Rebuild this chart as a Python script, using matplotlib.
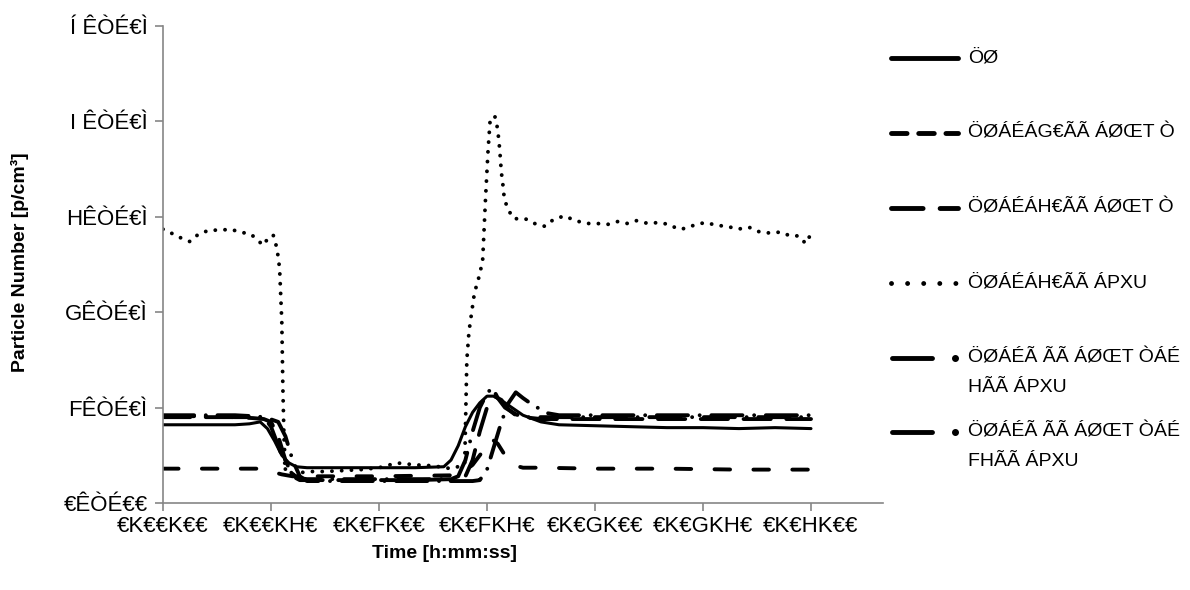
import matplotlib
matplotlib.use('Agg')
import matplotlib.pyplot as plt
from matplotlib.lines import Line2D
import numpy as np

plt.rcParams['font.family'] = ['Liberation Sans', 'DejaVu Sans']

# time in seconds, particle number in units of 1e5 p/cm3
t_s1 = [0, 5, 10, 15, 20, 24, 27, 29, 31, 33, 35, 37, 40, 50, 60, 70, 78, 80, 82, 84, 86, 88, 90, 92, 95,
        100, 105, 110, 120, 130, 140, 150, 160, 170, 180]
v_s1 = [0.82, 0.82, 0.82, 0.82, 0.82, 0.83, 0.85, 0.78, 0.65, 0.50, 0.42, 0.38, 0.37, 0.37, 0.37, 0.37, 0.38,
        0.45, 0.60, 0.80, 0.95, 1.05, 1.12, 1.12, 1.05, 0.92, 0.85, 0.82, 0.81, 0.80, 0.79, 0.79, 0.78, 0.79, 0.78]

t_s2 = [0, 10, 20, 27, 30, 33, 36, 40, 60, 80, 83, 86, 89, 91, 93, 95, 97, 100, 105, 120, 140, 160, 180]
v_s2 = [0.36, 0.36, 0.36, 0.36, 0.33, 0.30, 0.28, 0.28, 0.28, 0.29, 0.31, 0.40, 0.55, 0.68, 0.62, 0.50, 0.40,
        0.37, 0.37, 0.36, 0.36, 0.35, 0.35]

t_s3 = [0, 10, 20, 25, 28, 30, 32, 34, 36, 38, 40, 50, 60, 70, 80, 84, 86, 88, 90, 92, 94, 96, 98, 100, 105,
        110, 120, 140, 160, 180]
v_s3 = [0.90, 0.90, 0.90, 0.89, 0.88, 0.85, 0.70, 0.45, 0.28, 0.24, 0.24, 0.24, 0.24, 0.24, 0.25, 0.28, 0.45,
        0.75, 1.00, 1.12, 1.08, 0.98, 0.92, 0.90, 0.88, 0.88, 0.88, 0.88, 0.88, 0.88]

t_s4 = [0, 2.2, 3.5, 4.9, 7.5, 9.9, 12.9, 16.0, 18.8, 21.3, 24.3, 26.6, 27.6, 29.4, 30.6, 31.5, 32.0, 32.4,
        33.0, 33.3, 33.6, 34, 36, 40, 45, 50, 55, 60, 65, 70, 75, 80, 83.8, 84.4, 85, 86.5, 88, 88.8, 89.6,
        90.3, 90.9, 91.6, 92.2, 92.9, 93.3, 93.6, 93.8, 94.1, 94.5, 94.8, 95.8, 97.4, 100.6, 103.2, 106.1,
        108.4, 111.5, 114.5, 117.7, 120.6, 123.5, 126.3, 129.0, 131.6, 134.7, 137.7, 140.5, 143.2, 145.4,
        148.0, 150.8, 153.8, 156.8, 159.6, 162.8, 165.8, 168.6, 171.6, 174.2, 176.6, 178.5, 180]
v_s4 = [2.87, 2.83, 2.81, 2.78, 2.74, 2.82, 2.86, 2.86, 2.87, 2.84, 2.82, 2.75, 2.70, 2.78, 2.81, 2.69, 2.58,
        2.45, 1.90, 1.20, 0.70, 0.35, 0.30, 0.33, 0.33, 0.34, 0.35, 0.37, 0.42, 0.40, 0.39, 0.36, 0.40, 1.50,
        1.80, 2.20, 2.40, 2.55, 3.20, 3.70, 4.03, 4.05, 4.05, 3.93, 3.80, 3.67, 3.56, 3.43, 3.31, 3.19, 3.08,
        2.98, 2.98, 2.93, 2.90, 2.97, 3.01, 2.96, 2.93, 2.93, 2.92, 2.95, 2.93, 2.96, 2.93, 2.94, 2.92, 2.87,
        2.88, 2.92, 2.94, 2.91, 2.90, 2.87, 2.89, 2.84, 2.83, 2.84, 2.80, 2.80, 2.72, 2.82]

t_s5 = [0, 10, 20, 25, 28, 30, 32, 34, 36, 38, 40, 50, 60, 70, 80, 82, 84, 86, 88, 90, 91.5, 93, 95, 98, 100,
        105, 110, 120, 140, 160, 180]
v_s5 = [0.92, 0.92, 0.92, 0.91, 0.90, 0.80, 0.60, 0.40, 0.30, 0.26, 0.25, 0.25, 0.25, 0.25, 0.25, 0.28, 0.45,
        0.75, 1.00, 1.15, 1.21, 1.10, 1.00, 0.93, 0.90, 0.90, 0.90, 0.90, 0.90, 0.90, 0.90]

t_s6 = [0, 10, 20, 26, 29, 32, 34, 36, 38, 40, 50, 60, 70, 80, 86, 88, 90, 92, 94, 96, 98, 100, 103, 107, 110,
        120, 140, 160, 180]
v_s6 = [0.91, 0.91, 0.90, 0.90, 0.89, 0.85, 0.70, 0.45, 0.28, 0.23, 0.23, 0.23, 0.23, 0.23, 0.23, 0.24, 0.35,
        0.60, 0.85, 1.05, 1.16, 1.10, 1.02, 0.94, 0.92, 0.92, 0.92, 0.92, 0.92]

labels = ['ÖØ', 'ÖØÁÉÁG€ÃÃ ÁØŒT Ò', 'ÖØÁÉÁH€ÃÃ ÁØŒT Ò', 'ÖØÁÉÁH€ÃÃ ÁPXU',
          'ÖØÁÉÃ ÃÃ ÁØŒT ÒÁÉ\nHÃÃ ÁPXU', 'ÖØÁÉÃ ÃÃ ÁØŒT ÒÁÉ\nFHÃÃ ÁPXU']

x_ticks = [0, 30, 60, 90, 120, 150, 180]
x_ticklabels = ['€K€€K€€', '€K€€KH€', '€K€FK€€', '€K€FKH€', '€K€GK€€', '€K€GKH€', '€K€HK€€']
y_ticks = [0, 1e5, 2e5, 3e5, 4e5, 5e5]
y_ticklabels = ['€ÊÒÉ€€', 'FÊÒÉ€Ì', 'GÊÒÉ€Ì', 'HÊÒÉ€Ì', 'I ÊÒÉ€Ì', 'Í ÊÒÉ€Ì']

W, H = 1190, 590
fig = plt.figure(figsize=(W / 100, H / 100), dpi=100)
ax = fig.add_axes([163 / W, 1 - 503 / H, (883 - 163) / W, (503 - 26) / H])

lw = 2.8
styles = [
    dict(linestyle='-', lw=2.2),
    dict(linestyle=(0, (4, 6)), lw=lw),
    dict(linestyle=(0, (7, 4)), lw=lw),
    dict(linestyle=(0, (0.01, 2.5)), lw=lw),
    dict(linestyle=(0, (8, 3, 0.01, 3)), lw=lw),
    dict(linestyle=(0, (8, 3, 0.01, 3)), lw=lw),
]
series = [(t_s1, v_s1), (t_s2, v_s2), (t_s3, v_s3), (t_s4, v_s4), (t_s5, v_s5), (t_s6, v_s6)]
for (t, v), st in zip(series, styles):
    ax.plot(t, np.array(v) * 1e5, color='black', dash_capstyle='round', solid_capstyle='round',
            solid_joinstyle='round', **st)

ax.set_xlim(0, 200)
ax.set_ylim(0, 5e5)
ax.set_xticks(x_ticks)
ax.set_xticklabels(x_ticklabels)
ax.set_yticks(y_ticks)
ax.set_yticklabels(y_ticklabels)
for s in ['top', 'right']:
    ax.spines[s].set_visible(False)
for s in ['left', 'bottom']:
    ax.spines[s].set_color('#868686')
    ax.spines[s].set_linewidth(1.2)
ax.tick_params(colors='#868686', length=6, width=1.2, labelsize=16, labelcolor='black')
ax.tick_params(axis='x', pad=3)
ax.tick_params(axis='y', pad=5)

fig.text(445 / W, 1 - 553 / H, 'Time [h:mm:ss]', ha='center', va='center', fontsize=14, fontweight='bold')
fig.text(20 / W, 1 - 262 / H, 'Particle Number [p/cm³]', ha='center', va='center', rotation=90,
         fontsize=14, fontweight='bold')

# legend drawn by hand, Excel style
leg_y = [58, 133, 208, 283, 358, 432]
handle_styles = [
    dict(linestyle='-', lw=3.5),
    dict(linestyle=(0, (3.2, 2.4)), lw=3.5),
    dict(linestyle=(0, (6.5, 3.5)), lw=3.5),
    dict(linestyle=(0, (0.01, 3.3)), lw=3.5),
]
for i, y in enumerate(leg_y):
    yf = 1 - y / H
    if i < 4:
        fig.add_artist(Line2D([891 / W, 958 / W], [yf, yf], color='black', dash_capstyle='round',
                              solid_capstyle='round', transform=fig.transFigure, **handle_styles[i]))
    else:
        fig.add_artist(Line2D([892 / W, 932 / W], [yf, yf], color='black', lw=3.5, solid_capstyle='round',
                              transform=fig.transFigure))
        fig.add_artist(Line2D([955 / W], [yf], color='black', marker='o', markersize=4,
                              transform=fig.transFigure))
    for k, line in enumerate(labels[i].split('\n')):
        fig.text(968 / W, 1 - (y + 30 * k) / H, line, ha='left', va='center', fontsize=14)

fig.savefig('out.png', dpi=100)
